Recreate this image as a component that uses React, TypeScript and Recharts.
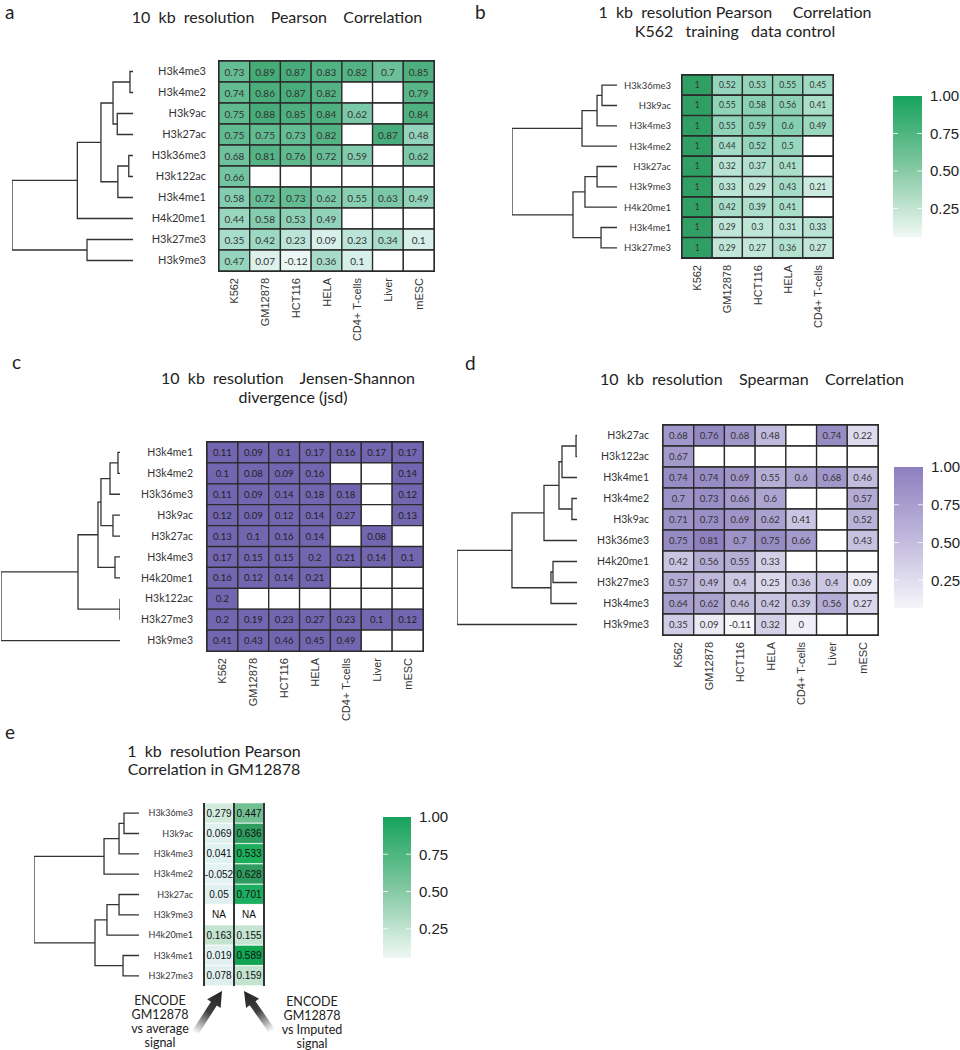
import React from 'react';
import {
  BarChart, Bar, Cell, XAxis, YAxis, LabelList, ReferenceArea, ReferenceLine,
  ScatterChart, Scatter,
} from 'recharts';

const SANS = 'Lato, "Open Sans", sans-serif';
const ARIAL = '"Liberation Sans", Arial, sans-serif';

// ---- data ----
const cellLines = ['K562', 'GM12878', 'HCT116', 'HELA', 'CD4+ T-cells', 'Liver', 'mESC'];
const cellLinesB = ['K562', 'GM12878', 'HCT116', 'HELA', 'CD4+ T-cells'];
const eColumns = ['average', 'imputed'];

// a: 10 kb Pearson
const aMarks = ['H3k4me3', 'H3k4me2', 'H3k9ac', 'H3k27ac', 'H3k36me3', 'H3k122ac', 'H3k4me1', 'H4k20me1', 'H3k27me3', 'H3k9me3'];
const aValues = [
  [0.73, 0.89, 0.87, 0.83, 0.82, 0.7, 0.85],
  [0.74, 0.86, 0.87, 0.82, null, null, 0.79],
  [0.75, 0.88, 0.85, 0.84, 0.62, null, 0.84],
  [0.75, 0.75, 0.73, 0.82, null, 0.87, 0.48],
  [0.68, 0.81, 0.76, 0.72, 0.59, null, 0.62],
  [0.66, null, null, null, null, null, null],
  [0.58, 0.72, 0.73, 0.62, 0.55, 0.63, 0.49],
  [0.44, 0.58, 0.53, 0.49, null, null, null],
  [0.35, 0.42, 0.23, 0.09, 0.23, 0.34, 0.1],
  [0.47, 0.07, -0.12, 0.36, 0.1, null, null],
];
// merges [child, child, height]; ids < n are leaves, n + k is merge k
const aTree = [
  [0, 1, 0.025], [2, 3, 0.13], [10, 11, 0.165], [4, 5, 0.035], [13, 6, 0.125],
  [12, 14, 0.265], [15, 7, 0.46], [8, 9, 0.38], [16, 17, 1.0],
];

// b: 1 kb Pearson, K562 training control
const bMarks = ['H3k36me3', 'H3k9ac', 'H3k4me3', 'H3k4me2', 'H3k27ac', 'H3k9me3', 'H4k20me1', 'H3k4me1', 'H3k27me3'];
const bValues = [
  [1, 0.52, 0.53, 0.55, 0.45],
  [1, 0.55, 0.58, 0.56, 0.41],
  [1, 0.55, 0.59, 0.6, 0.49],
  [1, 0.44, 0.52, 0.5, null],
  [1, 0.32, 0.37, 0.41, null],
  [1, 0.33, 0.29, 0.43, 0.21],
  [1, 0.42, 0.39, 0.41, null],
  [1, 0.29, 0.3, 0.31, 0.33],
  [1, 0.29, 0.27, 0.36, 0.27],
];
const bTree = [
  [0, 1, 0.143], [9, 2, 0.19], [10, 3, 0.333], [4, 5, 0.19], [12, 6, 0.305],
  [7, 8, 0.152], [13, 14, 0.419], [11, 15, 1.0],
];

// c: 10 kb Jensen-Shannon divergence
const cMarks = ['H3k4me1', 'H3k4me2', 'H3k36me3', 'H3k9ac', 'H3k27ac', 'H3k4me3', 'H4k20me1', 'H3k122ac', 'H3k27me3', 'H3k9me3'];
const cValues = [
  [0.11, 0.09, 0.1, 0.17, 0.16, 0.17, 0.17],
  [0.1, 0.08, 0.09, 0.16, null, null, 0.14],
  [0.11, 0.09, 0.14, 0.18, 0.18, null, 0.12],
  [0.12, 0.09, 0.12, 0.14, 0.27, null, 0.13],
  [0.13, 0.1, 0.16, 0.14, null, 0.08, null],
  [0.17, 0.15, 0.15, 0.2, 0.21, 0.14, 0.1],
  [0.16, 0.12, 0.14, 0.21, null, null, null],
  [0.2, null, null, null, null, null, null],
  [0.2, 0.19, 0.23, 0.27, 0.23, 0.1, 0.12],
  [0.41, 0.43, 0.46, 0.45, 0.49, null, null],
];
const cTree = [
  [0, 1, 0.017], [10, 2, 0.084], [3, 4, 0.059], [11, 12, 0.16], [5, 6, 0.042],
  [13, 14, 0.185], [7, 8, 0.0], [15, 16, 0.353], [17, 9, 1.0],
];

// d: 10 kb Spearman
const dMarks = ['H3k27ac', 'H3k122ac', 'H3k4me1', 'H3k4me2', 'H3k9ac', 'H3k36me3', 'H4k20me1', 'H3k27me3', 'H3k4me3', 'H3k9me3'];
const dValues = [
  [0.68, 0.76, 0.68, 0.48, null, 0.74, 0.22],
  [0.67, null, null, null, null, null, null],
  [0.74, 0.74, 0.69, 0.55, 0.6, 0.68, 0.46],
  [0.7, 0.73, 0.66, 0.6, null, null, 0.57],
  [0.71, 0.73, 0.69, 0.62, 0.41, null, 0.52],
  [0.75, 0.81, 0.7, 0.75, 0.66, null, 0.43],
  [0.42, 0.56, 0.55, 0.33, null, null, null],
  [0.57, 0.49, 0.4, 0.25, 0.36, 0.4, 0.09],
  [0.64, 0.62, 0.46, 0.42, 0.39, 0.56, 0.27],
  [0.35, 0.09, -0.11, 0.32, 0, null, null],
];
const dTree = [
  [0, 1, 0.008], [10, 2, 0.125], [3, 4, 0.042], [11, 12, 0.15], [13, 5, 0.275],
  [6, 7, 0.2], [15, 8, 0.217], [14, 16, 0.542], [17, 9, 1.0],
];

// e: 1 kb Pearson in GM12878
const eMarks = ['H3k36me3', 'H3k9ac', 'H3k4me3', 'H3k4me2', 'H3k27ac', 'H3k9me3', 'H4k20me1', 'H3k4me1', 'H3k27me3'];
const eAverage = [0.279, 0.069, 0.041, -0.052, 0.05, null, 0.163, 0.019, 0.078];
const eImputed = [0.447, 0.636, 0.533, 0.628, 0.701, null, 0.155, 0.589, 0.159];
const eValues = eAverage.map((v, i) => [v, eImputed[i]]);
const eTree = [
  [0, 1, 0.143], [9, 2, 0.19], [10, 3, 0.333], [4, 5, 0.19], [12, 6, 0.305],
  [7, 8, 0.152], [13, 14, 0.419], [11, 15, 1.0],
];

const legendTicks = [0.25, 0.5, 0.75, 1];

// ---- colours ----
const hex = (c: string) => [1, 3, 5].map((i) => parseInt(c.slice(i, i + 2), 16));
const ramp = (stops: [number, string][]) => (v: number) => {
  if (v <= stops[0][0]) return stops[0][1];
  for (let i = 1; i < stops.length; i++) {
    if (v <= stops[i][0]) {
      const [v0, c0] = stops[i - 1];
      const [v1, c1] = stops[i];
      const t = (v - v0) / (v1 - v0);
      const a = hex(c0);
      const b = hex(c1);
      return `rgb(${a.map((x, k) => Math.round(x + (b[k] - x) * t)).join(',')})`;
    }
  }
  return stops[stops.length - 1][1];
};

const greenA = ramp([[-0.12, '#eaf7f4'], [0.07, '#dcf1ec'], [0.23, '#bce5d9'], [0.42, '#9dd8c3'], [0.58, '#84cdb0'], [0.74, '#63bc92'], [0.89, '#45ab77']]);
const greenB = ramp([[0.21, '#cbeae0'], [0.3, '#bde6d7'], [0.55, '#8fd3b9'], [0.6, '#86cfb2'], [1, '#2f9f63']]);
const purpleC = () => '#7366b0';
const purpleD = ramp([[-0.11, '#f7f6fb'], [0.09, '#eceaf4'], [0.25, '#dcd8ec'], [0.42, '#c9c4e1'], [0.64, '#a79ecd'], [0.81, '#8e80bf']]);
const greenE = ramp([[-0.06, '#e3f2f5'], [0.08, '#dff0ef'], [0.16, '#c3e5d0'], [0.28, '#d3ebdd'], [0.45, '#70be91'], [0.53, '#1eae5d'], [0.59, '#10a551'], [0.63, '#2f9c5f'], [0.7, '#1cae5e']]);

// ---- components ----
type HeatProps = {
  rows: string[]; cols: string[]; values: (number | null)[][];
  color: (v: number) => string;
  gx: number; gy: number; gw: number; gh: number; gap: number;
  rowFont: number; valFont: number; valFamily?: string; valFill?: string;
  showCols?: boolean; na?: boolean; columnLines?: boolean;
};

function Heatmap(p: HeatProps) {
  const labelW = 100;
  const pad = 4;
  const showCols = p.showCols !== false;
  const bottomH = showCols ? 90 : 0;
  const nc = p.cols.length;
  const table = p.rows.map((r, i) => {
    const o: Record<string, any> = { row: r };
    p.cols.forEach((_, j) => {
      const v = p.values[i][j];
      o['c' + j] = 1;
      o['t' + j] = v == null ? (p.na ? 'NA' : '') : String(v);
    });
    return o;
  });
  const renderValue = (props: any) => {
    const vb = props.viewBox || props;
    const { x, y, width, height } = vb;
    if (!props.value) return null;
    return (
      <text x={x + width / 2} y={y + height / 2} textAnchor="middle" dominantBaseline="central"
        fontSize={p.valFont} fontFamily={p.valFamily || SANS} fill={p.valFill || '#333'}>
        {props.value}
      </text>
    );
  };
  return (
    <div style={{ position: 'absolute', left: p.gx - labelW, top: p.gy - pad }}>
      <BarChart
        width={labelW + p.gw + pad}
        height={p.gh + pad + (showCols ? bottomH : pad)}
        data={table}
        layout="vertical"
        barCategoryGap={0}
        barGap={0}
        margin={{ top: pad, right: pad, left: 0, bottom: showCols ? 0 : pad }}
      >
        <XAxis
          type="number"
          domain={[0, nc]}
          allowDataOverflow
          ticks={p.cols.map((_, j) => j + 0.5)}
          interval={0}
          hide={!showCols}
          height={bottomH}
          tickLine={false}
          axisLine={false}
          tickSize={0}
          tickMargin={7}
          tick={({ x, y, payload }: any) => (
            <text transform={`translate(${x},${y}) rotate(-90)`} textAnchor="end" dominantBaseline="central"
              fontSize={11} fontFamily={ARIAL} fill="#333">
              {p.cols[Math.floor(payload.value)]}
            </text>
          )}
        />
        <YAxis
          type="category"
          dataKey="row"
          width={labelW}
          interval={0}
          tickLine={false}
          axisLine={false}
          tickSize={0}
          tickMargin={p.gap}
          tick={{ fontSize: p.rowFont, fill: '#333', fontFamily: SANS }}
        />
        {p.cols.map((_, j) => (
          <Bar key={j} dataKey={'c' + j} stackId="s" isAnimationActive={false}
            stroke={p.columnLines ? '#ffffff' : '#2b2b2b'} strokeWidth={p.columnLines ? 0.6 : 1.3}>
            {p.values.map((row, i) => (
              <Cell key={i} fill={row[j] == null ? '#ffffff' : p.color(row[j] as number)} />
            ))}
            <LabelList dataKey={'t' + j} content={renderValue} />
          </Bar>
        ))}
        {p.columnLines
          ? p.cols.concat(['']).map((_, j) => (
            <ReferenceLine key={'l' + j} x={j} stroke="#333" strokeWidth={2} ifOverflow="visible" />
          ))
          : <ReferenceArea x1={0} x2={nc} fill="none" stroke="#2b2b2b" strokeWidth={2} ifOverflow="visible" />}
      </BarChart>
    </div>
  );
}

type DendroProps = { tree: number[][]; n: number; x0: number; x1: number; y0: number; y1: number };

function Dendrogram({ tree, n, x0, x1, y0, y1 }: DendroProps) {
  const pos: { h: number; y: number }[] = [];
  for (let i = 0; i < n; i++) pos.push({ h: 0, y: i });
  const links = tree.map(([a, b, h]) => {
    const A = pos[a];
    const B = pos[b];
    pos.push({ h, y: (A.y + B.y) / 2 });
    return [{ h: A.h, y: A.y }, { h, y: A.y }, { h, y: B.y }, { h: B.h, y: B.y }];
  });
  const pad = 3;
  return (
    <div style={{ position: 'absolute', left: x0 - pad, top: y0 - pad }}>
      <ScatterChart width={x1 - x0 + 2 * pad} height={y1 - y0 + 2 * pad}
        margin={{ top: pad, right: pad, bottom: pad, left: pad }}>
        <XAxis type="number" dataKey="h" domain={[0, 1]} allowDataOverflow reversed hide />
        <YAxis type="number" dataKey="y" domain={[-0.5, n - 0.5]} allowDataOverflow reversed hide />
        {links.map((d, i) => (
          <Scatter key={i} data={d} isAnimationActive={false}
            line={{ stroke: '#333', strokeWidth: 1.3 }}
            shape={() => <g />} />
        ))}
      </ScatterChart>
    </div>
  );
}

type BarLegendProps = { id: string; x: number; y: number; w: number; h: number; min: number; top: string; mid: string; bottom: string };

function ColorLegend({ id, x, y, w, h, min, top, mid, bottom }: BarLegendProps) {
  const pad = 10;
  return (
    <div style={{ position: 'absolute', left: x, top: y - pad }}>
      <BarChart width={w + 60} height={h + 2 * pad} data={[{ k: 'scale', v: 1 }]}
        barCategoryGap={0} margin={{ top: pad, bottom: pad, left: 0, right: 0 }}>
        <defs>
          <linearGradient id={id} x1="0" y1="0" x2="0" y2="1">
            <stop offset="0" stopColor={top} />
            <stop offset="0.5" stopColor={mid} />
            <stop offset="1" stopColor={bottom} />
          </linearGradient>
        </defs>
        <XAxis dataKey="k" hide />
        <YAxis type="number" orientation="right" domain={[min, 1]} allowDataOverflow ticks={legendTicks}
          tickFormatter={(v: number) => v.toFixed(2)} width={60} tickLine={false} axisLine={false}
          tickSize={0} tickMargin={8} tick={{ fontSize: 15, fill: '#222', fontFamily: ARIAL }} />
        <Bar dataKey="v" fill={`url(#${id})`} isAnimationActive={false} />
        {legendTicks.slice(0, 3).map((t) => (
          <ReferenceLine key={t} y={t} stroke="#ffffff" strokeWidth={1} strokeOpacity={0.8} strokeDasharray={`5 ${w - 10} 5`} />
        ))}
      </BarChart>
    </div>
  );
}

function Arrow({ from, to, id }: { from: [number, number]; to: [number, number]; id: string }) {
  const dx = to[0] - from[0];
  const dy = to[1] - from[1];
  const L = Math.sqrt(dx * dx + dy * dy);
  const ang = (Math.atan2(dy, dx) * 180) / Math.PI;
  const hl = 15;
  return (
    <g transform={`translate(${from[0]},${from[1]}) rotate(${ang})`}>
      <defs>
        <linearGradient id={id} x1="0" y1="0" x2="1" y2="0">
          <stop offset="0" stopColor="#2a2a2a" stopOpacity="0" />
          <stop offset="0.5" stopColor="#2a2a2a" stopOpacity="0.9" />
          <stop offset="1" stopColor="#222" stopOpacity="1" />
        </linearGradient>
      </defs>
      <polygon fill={`url(#${id})`}
        points={`0,-3.5 ${L - hl},-3.5 ${L - hl},-8 ${L},0 ${L - hl},8 ${L - hl},3.5 0,3.5`} />
    </g>
  );
}

const T = (props: any) => <text fontFamily={SANS} fill="#222" style={{ whiteSpace: 'pre' }} {...props} />;

export default function App() {
  return (
    <div style={{ position: 'absolute', left: 0, top: 0, width: 960, height: 1050, background: '#fff' }}>
      <Dendrogram tree={aTree} n={aMarks.length} x0={12} x1={133} y0={61} y1={271} />
      <Heatmap rows={aMarks} cols={cellLines} values={aValues} color={greenA}
        gx={219} gy={61} gw={215} gh={210} gap={13} rowFont={11} valFont={10} />

      <Dendrogram tree={bTree} n={bMarks.length} x0={512} x1={617} y0={75} y1={258} />
      <Heatmap rows={bMarks} cols={cellLinesB} values={bValues} color={greenB}
        gx={682} gy={75} gw={151} gh={183} gap={11} rowFont={9.5} valFont={8.5} />
      <ColorLegend id="gb" x={893} y={96} w={29} h={141} min={0.06} top="#17a35d" mid="#80c7a0" bottom="#f1f9f5" />

      <Dendrogram tree={cTree} n={cMarks.length} x0={1} x1={120} y0={442} y1={651} />
      <Heatmap rows={cMarks} cols={cellLines} values={cValues} color={purpleC}
        gx={207} gy={442} gw={216} gh={209} gap={14} rowFont={10.5} valFont={9.5} valFill="#222" />

      <Dendrogram tree={dTree} n={dMarks.length} x0={457} x1={577} y0={425} y1={635} />
      <Heatmap rows={dMarks} cols={cellLines} values={dValues} color={purpleD}
        gx={663} gy={425} gw={215} gh={210} gap={14} rowFont={10.5} valFont={9.5} />
      <ColorLegend id="gd" x={894} y={467} w={29} h={141} min={0.066} top="#8d7fbf" mid="#c0b8dc" bottom="#f6f5fa" />

      <Dendrogram tree={eTree} n={eMarks.length} x0={34} x1={139} y0={803} y1={986} />
      <Heatmap rows={eMarks} cols={eColumns} values={eValues} color={greenE}
        gx={204} gy={803} gw={60} gh={183} gap={11} rowFont={9} valFont={10}
        valFamily={ARIAL} valFill="#111" showCols={false} na columnLines />
      <ColorLegend id="ge" x={383} y={817} w={28} h={141} min={0.054} top="#16a35c" mid="#80c7a0" bottom="#f0f8f4" />

      <svg width={960} height={1050} style={{ position: 'absolute', left: 0, top: 0, pointerEvents: 'none' }}>
        <T x={5} y={19} fontSize={19}>a</T>
        <T x={475} y={19} fontSize={19}>b</T>
        <T x={12} y={369} fontSize={19}>c</T>
        <T x={465} y={370} fontSize={19}>d</T>
        <T x={5} y={739} fontSize={19}>e</T>

        <T x={277} y={23} fontSize={16} textAnchor="middle">{'10  kb  resolution    Pearson    Correlation'}</T>
        <T x={735} y={18} fontSize={16} textAnchor="middle">{'1  kb  resolution Pearson     Correlation'}</T>
        <T x={735} y={37} fontSize={16} textAnchor="middle">{'K562   training   data control'}</T>
        <T x={288} y={384} fontSize={16} textAnchor="middle">{'10  kb  resolution    Jensen-Shannon'}</T>
        <T x={293} y={403} fontSize={16} textAnchor="middle">divergence (jsd)</T>
        <T x={752} y={385} fontSize={16} textAnchor="middle">{'10  kb  resolution    Spearman    Correlation'}</T>
        <T x={214} y={757} fontSize={16} textAnchor="middle">{'1  kb  resolution Pearson'}</T>
        <T x={214} y={775} fontSize={16} textAnchor="middle">Correlation in GM12878</T>

        <Arrow id="ar1" from={[195, 1033]} to={[222, 991]} />
        <Arrow id="ar2" from={[272, 1031]} to={[244, 991]} />

        {['ENCODE', 'GM12878', 'vs average', 'signal'].map((s, i) => (
          <T key={s} x={160} y={1005 + i * 14} fontSize={12.5} textAnchor="middle">{s}</T>
        ))}
        {['ENCODE', 'GM12878', 'vs Imputed', 'signal'].map((s, i) => (
          <T key={s} x={312} y={1006 + i * 14} fontSize={12.5} textAnchor="middle">{s}</T>
        ))}
      </svg>
    </div>
  );
}
